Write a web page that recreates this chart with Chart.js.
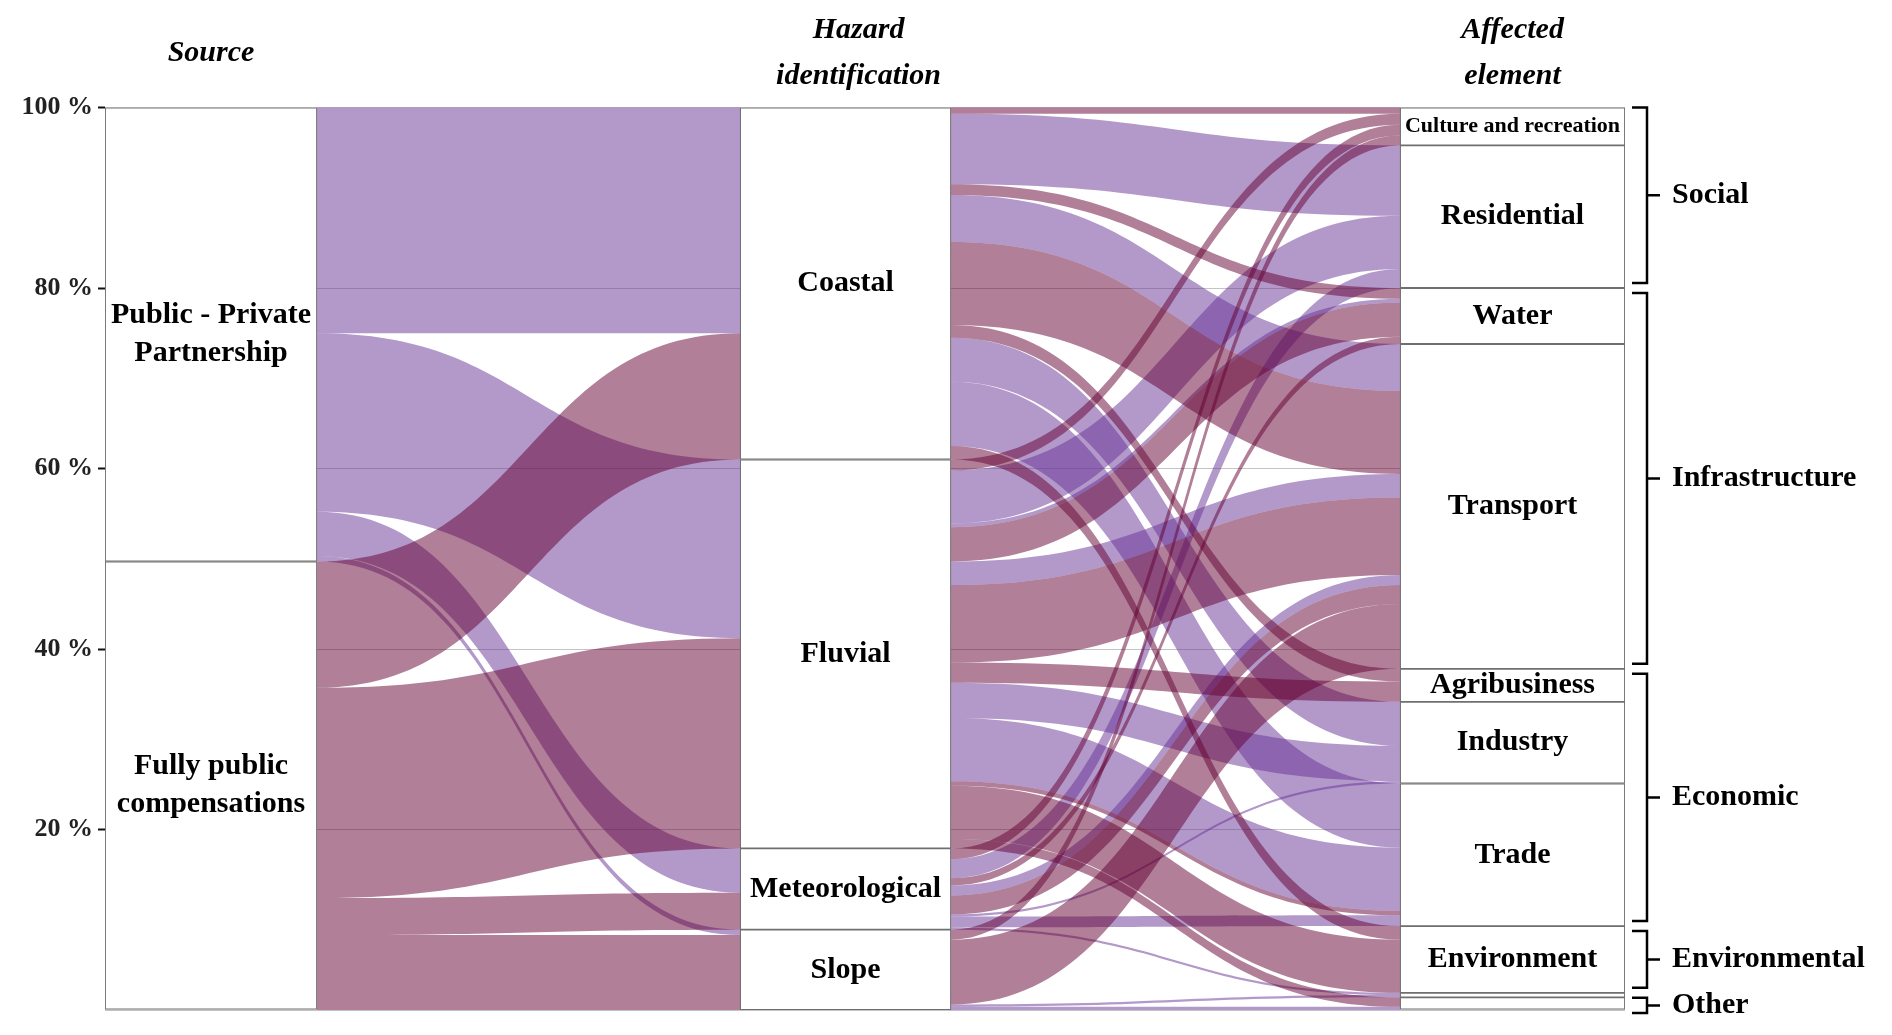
<!DOCTYPE html>
<html>
<head>
<meta charset="utf-8">
<script src="https://cdn.jsdelivr.net/npm/chart.js@4.4.1/dist/chart.umd.min.js"></script>
<style>
  html, body { margin: 0; padding: 0; background: #fff; }
  canvas { display: block; }
</style>
</head>
<body>
<canvas id="alluvial" width="1892" height="1035"></canvas>
<script>
// Axis nodes, top to bottom
const sourceNodes = ['PPP', 'FP'];
const sourceLabels = [['Public - Private', 'Partnership'], ['Fully public', 'compensations']];
const hazardNodes = ['Coastal', 'Fluvial', 'Meteorological', 'Slope'];
const elementNodes = ['Culture', 'Residential', 'Water', 'Transport', 'Agribusiness',
  'Industry', 'Trade', 'Environment', 'OtherA', 'OtherB'];
const elementLabels = ['Culture and recreation', 'Residential', 'Water', 'Transport', 'Agribusiness',
  'Industry', 'Trade', 'Environment', '', ''];
const groupNames = ['Social', 'Infrastructure', 'Economic', 'Environmental', 'Other'];
const groupMembers = [['Culture', 'Residential'], ['Water', 'Transport'],
  ['Agribusiness', 'Industry', 'Trade'], ['Environment'], ['OtherA', 'OtherB']];
const columnTitles = [['Source'], ['Hazard', 'identification'], ['Affected', 'element']];
const yTicks = [0, 20, 40, 60, 80, 100];

// Flows (share of cases, %): source -> hazard -> affected element
const flowSource = [
  'FP', 'PPP', 'FP', 'PPP', 'FP', 'FP', 'PPP', 'PPP', 'FP',
  'FP', 'PPP', 'PPP', 'FP', 'PPP', 'FP', 'FP', 'PPP', 'PPP', 'FP', 'FP', 'FP',
  'FP', 'PPP', 'FP', 'PPP', 'FP', 'PPP', 'PPP', 'PPP',
  'FP', 'FP', 'PPP', 'PPP'
];
const flowHazard = [
  'Coastal', 'Coastal', 'Coastal', 'Coastal', 'Coastal', 'Coastal', 'Coastal', 'Coastal', 'Coastal',
  'Fluvial', 'Fluvial', 'Fluvial', 'Fluvial', 'Fluvial', 'Fluvial', 'Fluvial', 'Fluvial', 'Fluvial', 'Fluvial', 'Fluvial', 'Fluvial',
  'Meteorological', 'Meteorological', 'Meteorological', 'Meteorological', 'Meteorological', 'Meteorological', 'Meteorological', 'Meteorological',
  'Slope', 'Slope', 'Slope', 'Slope'
];
const flowElement = [
  'Culture', 'Residential', 'Water', 'Transport', 'Transport', 'Agribusiness', 'Industry', 'Trade', 'Environment',
  'Culture', 'Residential', 'Water', 'Water', 'Transport', 'Transport', 'Agribusiness', 'Industry', 'Trade', 'Trade', 'Environment', 'OtherB',
  'Culture', 'Residential', 'Water', 'Transport', 'Transport', 'Industry', 'Trade', 'OtherA',
  'Culture', 'Transport', 'OtherA', 'OtherB'
];
const flowValue = [
  0.7, 7.8, 1.2, 5.2, 9.2, 1.4, 4.9, 7.1, 1.5,
  1.2, 5.9, 0.4, 3.8, 2.6, 8.6, 2.25, 3.9, 7.0, 0.5, 5.9, 1.05,
  1.2, 2.1, 0.8, 1.1, 2.1, 0.25, 1.2, 0.25,
  1.1, 7.2, 0.25, 0.35
];

// Layout (x in axis units 0..100)
const CANVAS_W = 1892;
const AXIS_W = 105;
const PAD_RIGHT = 267;
const PX_PER_UNIT = (CANVAS_W - AXIS_W - PAD_RIGHT) / 100;
const columns = [
  { left: 0, right: 13.95, titleShift: 0 },
  { left: 41.78, right: 55.66, titleShift: 13 },
  { left: 85.2, right: 100, titleShift: 0 }
];
const flowColors = {
  PPP: 'rgba(103, 49, 149, 0.5)',
  FP: 'rgba(99, 0, 49, 0.5)'
};
const SERIF = '"Liberation Serif", "Times New Roman", serif';

// Node extents stacked from 100 % downwards
function stackNodes(names, key) {
  const totals = names.map(n => flowValue.reduce((s, v, i) => s + (key[i] === n ? v : 0), 0));
  let top = 100;
  return names.map((n, i) => {
    const node = { name: n, hi: top, lo: top - totals[i] };
    top -= totals[i];
    return node;
  });
}
const sourceStack = stackNodes(sourceNodes, flowSource);
const hazardStack = stackNodes(hazardNodes, flowHazard);
const elementStack = stackNodes(elementNodes, flowElement);

// First segment: source x hazard totals
const firstSegment = [];
sourceNodes.forEach(s => hazardNodes.forEach(h => {
  const v = flowValue.reduce((acc, val, i) => acc + (flowSource[i] === s && flowHazard[i] === h ? val : 0), 0);
  if (v > 0) firstSegment.push({ src: s, from: h, value: v });
}));

function assign(items, stack, nodeOf, sortKey, field) {
  const cursor = {};
  stack.forEach(n => { cursor[n.name] = n.hi; });
  items.slice().sort((a, b) => {
    const ka = sortKey(a), kb = sortKey(b);
    for (let i = 0; i < ka.length; i++) if (ka[i] !== kb[i]) return ka[i] - kb[i];
    return 0;
  }).forEach(it => {
    const n = nodeOf(it);
    it[field] = [cursor[n], cursor[n] - it.value];
    cursor[n] -= it.value;
  });
}

const sIdx = n => sourceNodes.indexOf(n);
const hIdx = n => hazardNodes.indexOf(n);
const eIdx = n => elementNodes.indexOf(n);

// source side ordered by hazard, hazard side ordered by source
assign(firstSegment, sourceStack, f => f.src, f => [sIdx(f.src), hIdx(f.from)], 'a');
assign(firstSegment, hazardStack, f => f.from, f => [hIdx(f.from), sIdx(f.src)], 'b');

const secondSegment = flowValue.map((v, i) => ({ src: flowSource[i], from: flowHazard[i], to: flowElement[i], value: v }));
assign(secondSegment, hazardStack, f => f.from, f => [hIdx(f.from), eIdx(f.to), sIdx(f.src)], 'a');
assign(secondSegment, elementStack, f => f.to, f => [eIdx(f.to), hIdx(f.from), sIdx(f.src)], 'b');

function drawBand(ctx, x0, x1, a0, b0, a1, b1) {
  const c = (x1 - x0) * 0.5;
  ctx.beginPath();
  ctx.moveTo(x0, a0);
  ctx.bezierCurveTo(x0 + c, a0, x1 - c, a1, x1, a1);
  ctx.lineTo(x1, b1);
  ctx.bezierCurveTo(x1 - c, b1, x0 + c, b0, x0, b0);
  ctx.closePath();
  ctx.fill();
}

const alluvialPlugin = {
  id: 'alluvial',
  beforeDatasetsDraw(chart) {
    const { ctx, scales: { x, y } } = chart;
    ctx.save();
    const segments = [
      { list: firstSegment, x0: x.getPixelForValue(columns[0].right), x1: x.getPixelForValue(columns[1].left) },
      { list: secondSegment, x0: x.getPixelForValue(columns[1].right), x1: x.getPixelForValue(columns[2].left) }
    ];
    // purple flows first, maroon on top
    ['PPP', 'FP'].forEach(src => {
      ctx.fillStyle = flowColors[src];
      segments.forEach(seg => {
        seg.list.filter(f => f.src === src).forEach(f => {
          drawBand(ctx, seg.x0, seg.x1,
            y.getPixelForValue(f.a[0]), y.getPixelForValue(f.a[1]),
            y.getPixelForValue(f.b[0]), y.getPixelForValue(f.b[1]));
        });
      });
    });
    ctx.restore();
  },
  afterDatasetsDraw(chart) {
    const { ctx, scales: { x, y } } = chart;
    ctx.save();
    ctx.fillStyle = '#000';
    ctx.textAlign = 'center';
    ctx.textBaseline = 'middle';

    const labelNode = (col, node, lines, size) => {
      const cx = (x.getPixelForValue(columns[col].left) + x.getPixelForValue(columns[col].right)) / 2;
      const cy = y.getPixelForValue((node.hi + node.lo) / 2);
      ctx.font = `bold ${size}px ${SERIF}`;
      const lh = 38;
      lines.forEach((t, i) => ctx.fillText(t, cx, cy + (i - (lines.length - 1) / 2) * lh));
    };
    sourceStack.forEach((n, i) => labelNode(0, n, sourceLabels[i], 30));
    hazardStack.forEach(n => labelNode(1, n, [n.name], 30));
    elementStack.forEach((n, i) => {
      if (!elementLabels[i]) return;
      labelNode(2, n, [elementLabels[i]], i === 0 ? 22 : 30);
    });

    // column titles
    ctx.font = `italic bold 30px ${SERIF}`;
    columnTitles.forEach((lines, col) => {
      const cx = (x.getPixelForValue(columns[col].left) + x.getPixelForValue(columns[col].right)) / 2 + columns[col].titleShift;
      if (lines.length === 1) ctx.fillText(lines[0], cx, 53);
      else lines.forEach((t, i) => ctx.fillText(t, cx, 30 + i * 46));
    });

    // group brackets on the right
    const bx = chart.chartArea.right + 22;
    ctx.strokeStyle = '#000';
    ctx.lineWidth = 2.5;
    ctx.textAlign = 'left';
    ctx.font = `bold 30px ${SERIF}`;
    groupNames.forEach((g, gi) => {
      const members = groupMembers[gi].map(m => elementStack[eIdx(m)]);
      const hi = Math.max(...members.map(m => m.hi));
      const lo = Math.min(...members.map(m => m.lo));
      const top = y.getPixelForValue(hi) + (hi >= 99.99 ? 0 : 5);
      const bot = y.getPixelForValue(lo) - (lo <= 0.01 ? -3 : 5);
      const mid = (top + bot) / 2;
      ctx.beginPath();
      ctx.moveTo(bx - 15, top);
      ctx.lineTo(bx, top);
      ctx.lineTo(bx, bot);
      ctx.lineTo(bx - 15, bot);
      ctx.moveTo(bx, mid);
      ctx.lineTo(bx + 13, mid);
      ctx.stroke();
      ctx.fillText(g, bx + 25, mid);
    });
    ctx.restore();
  }
};

const nodeDataset = (col, stack) => ({
  data: stack.map(n => ({ x: (columns[col].left + columns[col].right) / 2, y: [n.lo, n.hi] })),
  barThickness: (columns[col].right - columns[col].left) * PX_PER_UNIT,
  backgroundColor: '#ffffff',
  borderColor: '#6f6f6f',
  borderWidth: 1.25,
  borderSkipped: false,
  grouped: false
});

new Chart(document.getElementById('alluvial'), {
  type: 'bar',
  data: {
    datasets: [
      nodeDataset(0, sourceStack),
      nodeDataset(1, hazardStack),
      nodeDataset(2, elementStack)
    ]
  },
  options: {
    responsive: false,
    animation: false,
    layout: { padding: { top: 107.5, bottom: 25, left: 0, right: PAD_RIGHT } },
    plugins: { legend: { display: false }, tooltip: { enabled: false } },
    scales: {
      x: { type: 'linear', min: 0, max: 100, display: false, offset: false },
      y: {
        min: 0,
        max: 100,
        afterFit: scale => { scale.width = AXIS_W; },
        afterBuildTicks: scale => { scale.ticks = yTicks.map(v => ({ value: v })); },
        border: { display: false },
        grid: {
          color: '#c4c4c4',
          lineWidth: 1,
          tickLength: 7,
          tickWidth: 2,
          tickColor: c => (c.tick && c.tick.value === 0 ? 'rgba(0,0,0,0)' : '#111')
        },
        ticks: {
          padding: 5,
          color: '#222',
          font: { family: SERIF, size: 26, weight: 'bold' },
          callback: v => (v === 0 ? '' : v + ' %')
        }
      }
    }
  },
  plugins: [alluvialPlugin]
});
</script>
</body>
</html>
